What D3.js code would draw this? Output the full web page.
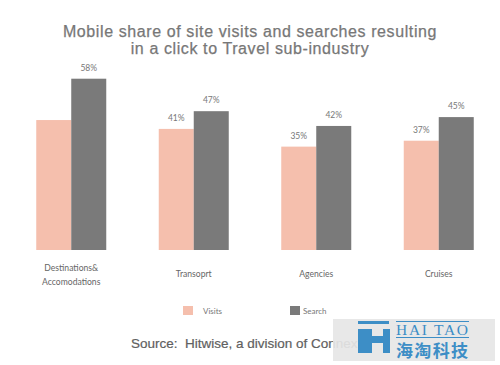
<!DOCTYPE html>
<html>
<head>
<meta charset="utf-8">
<script src="https://cdn.jsdelivr.net/npm/d3@7"></script>
<style>
  html, body { margin: 0; padding: 0; background: #fff; }
  svg { display: block; }
</style>
</head>
<body>
<script>
const categories = ["Destinations&\nAccomodations", "Transoprt", "Agencies", "Cruises"];
const seriesNames = ["Visits", "Search"];
const visits = [44, 41, 35, 37];
const search = [58, 47, 42, 45];
const visitLabels = ["", "41%", "35%", "37%"];
const searchLabels = ["58%", "47%", "42%", "45%"];
const colors = ["#f5bfad", "#7a7a7a"];

const W = 500, H = 365;
const svg = d3.select("body").append("svg").attr("width", W).attr("height", H);

const x0 = d3.scaleBand().domain(categories).range([10, 500]).paddingInner(0.4286).paddingOuter(0.2143);
const x1 = d3.scaleBand().domain(seriesNames).range([0, x0.bandwidth()]);
const y = d3.scaleLinear().domain([0, 58]).range([250, 78.7]);

// title
const title = svg.append("text").attr("x", 250).attr("text-anchor", "middle")
  .attr("font-family", "'Liberation Sans', Arial, sans-serif").attr("font-size", 16)
  .attr("letter-spacing", 0.6)
  .attr("fill", "#777").attr("stroke", "#777").attr("stroke-width", 0.25);
title.append("tspan").attr("x", 250).attr("y", 37).text("Mobile share of site visits and searches resulting");
title.append("tspan").attr("x", 250).attr("y", 54).text("in a click to Travel sub-industry");

const data = categories.map((c, i) => ({
  cat: c,
  vals: [
    { s: "Visits", v: visits[i], label: visitLabels[i] },
    { s: "Search", v: search[i], label: searchLabels[i] }
  ]
}));

const g = svg.append("g");
const groups = g.selectAll("g.grp").data(data).join("g")
  .attr("transform", d => `translate(${x0(d.cat)},0)`);

groups.selectAll("rect").data(d => d.vals).join("rect")
  .attr("x", d => x1(d.s))
  .attr("width", x1.bandwidth())
  .attr("y", d => y(d.v))
  .attr("height", d => y(0) - y(d.v))
  .attr("fill", (d, i) => colors[i]);

groups.selectAll("text.val").data(d => d.vals).join("text")
  .attr("class", "val")
  .attr("x", d => x1(d.s) + x1.bandwidth() / 2)
  .attr("y", d => y(d.v) - 8)
  .attr("text-anchor", "middle")
  .attr("font-family", "Lato, 'DejaVu Sans', sans-serif")
  .attr("font-size", 8.5)
  .attr("fill", "#777")
  .text(d => d.label);

// category labels
groups.each(function(d) {
  const lines = d.cat.split("\n");
  const t = d3.select(this).append("text")
    .attr("text-anchor", "middle")
    .attr("font-family", "Lato, 'DejaVu Sans', sans-serif")
    .attr("font-size", 8.6)
    .attr("fill", "#666");
  const cx = x0.bandwidth() / 2;
  if (lines.length === 1) {
    t.append("tspan").attr("x", cx).attr("y", 277).text(lines[0]);
  } else {
    lines.forEach((l, k) => t.append("tspan").attr("x", cx).attr("y", 271 + k * 14).text(l));
  }
});

// legend
const legendX = [183, 290];
const legend = svg.append("g");
seriesNames.forEach((s, i) => {
  legend.append("rect").attr("x", legendX[i]).attr("y", 306).attr("width", 10).attr("height", 9).attr("fill", colors[i]);
  legend.append("text").attr("x", legendX[i] + 20 - (i ? 7 : 0)).attr("y", 314)
    .attr("font-family", "Lato, 'DejaVu Sans', sans-serif").attr("font-size", 8).attr("fill", "#777").text(s);
});

// source
svg.append("text").attr("x", 131).attr("y", 348)
  .attr("font-family", "'Liberation Sans', Arial, sans-serif").attr("font-size", 13.5).attr("fill", "#606060")
  .attr("stroke", "#606060").attr("stroke-width", 0.2)
  .style("white-space", "pre").attr("xml:space", "preserve")
  .text("Source:  Hitwise, a division of Connexity");

// watermark
const wm = svg.append("g");
wm.append("rect").attr("x", 333).attr("y", 319).attr("width", 162).attr("height", 42).attr("fill", "#e6e6e6").attr("opacity", 0.92);
const blue = "#3d8ec6";
wm.append("rect").attr("x", 358).attr("y", 321).attr("width", 31).attr("height", 3).attr("fill", blue);
wm.append("rect").attr("x", 358).attr("y", 329).attr("width", 14).attr("height", 24).attr("fill", blue);
wm.append("rect").attr("x", 372).attr("y", 336).attr("width", 11).attr("height", 7).attr("fill", blue);
wm.append("rect").attr("x", 383).attr("y", 329).attr("width", 7).attr("height", 24).attr("fill", blue);
wm.append("line").attr("x1", 396).attr("x2", 469).attr("y1", 321.5).attr("y2", 321.5).attr("stroke", blue).attr("stroke-width", 1);
wm.append("line").attr("x1", 396).attr("x2", 469).attr("y1", 337.5).attr("y2", 337.5).attr("stroke", blue).attr("stroke-width", 1);
wm.append("text").attr("x", 432).attr("y", 335).attr("text-anchor", "middle")
  .attr("font-family", "'Liberation Serif', 'DejaVu Serif', serif").attr("font-size", 15.5).attr("fill", blue)
  .attr("textLength", 72).text("HAI TAO");
wm.append("text").attr("x", 432).attr("y", 357).attr("text-anchor", "middle")
  .attr("font-family", "'Noto Sans CJK SC', sans-serif").attr("font-weight", "bold").attr("font-size", 17).attr("fill", blue)
  .attr("textLength", 72).text("海淘科技");
</script>
</body>
</html>
